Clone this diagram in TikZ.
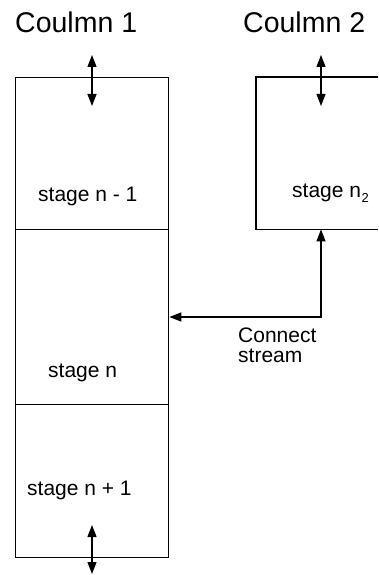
\documentclass[tikz,border=0pt]{standalone}
\usepackage{fontspec}
\setmainfont{Liberation Sans}
\usetikzlibrary{arrows.meta}
\begin{document}
\begin{tikzpicture}[x=1pt,y=-1pt,
  box/.style={draw,line width=1.3pt,minimum width=153pt,inner sep=0pt,anchor=north west},
  lbl/.style={inner sep=0pt,anchor=base west,font=\fontsize{21}{20}\selectfont},
  head/.style={inner sep=0pt,anchor=base west,font=\fontsize{28.5}{32}\selectfont},
  arr/.style={line width=1.3pt,{Triangle[length=12pt,width=9pt]}-{Triangle[length=12pt,width=9pt]}}]
\useasboundingbox (0,0) rectangle (378,575);
% headings
\node[head] (h1) at (15,33) {Coulmn 1};
\node[head] (h2) at (243,33) {Coulmn 2};
% column 1 stages
\node[box,minimum height=152pt] (b1) at (15,77) {};
\node[box,minimum height=175pt] (b2) at (15,229) {};
\node[box,minimum height=153pt] (b3) at (15,404) {};
% column 2 stage (open at the right edge)
\node[inner sep=0pt,anchor=north west,minimum width=122pt,minimum height=152pt] (c2) at (256,77) {};
\draw[line width=1.3pt] (c2.north east) -- (c2.north west) -- (c2.south west) -- (c2.south east);
% labels
\node[lbl] (l1) at (38,201) {stage n - 1};
\node[lbl] (l2) at (48,377) {stage n};
\node[lbl] (l3) at (27,495) {stage n + 1};
\node[lbl] (l4) at (292,197) {stage n\kern0.5pt\raisebox{-5pt}{\fontsize{13}{13}\selectfont 2}};
\node[lbl,align=left] (l5) at (238,362) {Connect\\stream};
% vertical in/out arrows
\coordinate (t1a) at (92,55);  \coordinate (t1b) at (92,106);
\coordinate (t2a) at (321,55); \coordinate (t2b) at (321,106);
\coordinate (t3a) at (92,525); \coordinate (t3b) at (92,574);
\draw[arr] (t1a) -- (t1b);
\draw[arr] (t2a) -- (t2b);
\draw[arr] (t3a) -- (t3b);
% connect stream
\coordinate (cj) at (321,317);
\draw[arr] (c2.south west -| cj) -- (cj) -- (b2.east |- cj);
\end{tikzpicture}
\end{document}
